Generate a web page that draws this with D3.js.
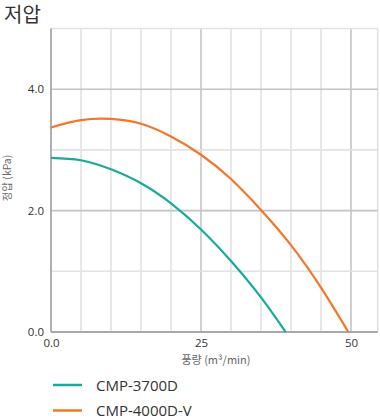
<!DOCTYPE html>
<html><head><meta charset="utf-8">
<script src="https://cdn.jsdelivr.net/npm/d3@7"></script>
<style>
html,body{margin:0;padding:0;background:#fff;}
svg{display:block;font-family:"Noto Sans","Noto Sans CJK KR",sans-serif;}
</style></head>
<body>
<svg id="c" width="380" height="419"></svg>
<script>
const title = "저압";
const xTitle = "풍량 (m³/min)";
const yTitle = "정압 (kPa)";
const xTicks = [0, 25, 50];
const xTickLabels = ["0.0", "25", "50"];
const yTicks = [0, 2, 4];
const yTickLabels = ["0.0", "2.0", "4.0"];
const seriesNames = ["CMP-3700D", "CMP-4000D-V"];
const seriesColors = ["#19aa9b", "#f47628"];
const flow3700 = [0, 5, 10, 15, 20, 25, 30, 35, 39.1];
const press3700 = [2.87, 2.83, 2.68, 2.45, 2.12, 1.69, 1.17, 0.57, 0];
const flow4000 = [0, 5, 10, 15, 20, 25, 30, 35, 40, 45, 49.55];
const press4000 = [3.37, 3.49, 3.51, 3.43, 3.22, 2.92, 2.52, 2.01, 1.43, 0.73, 0];

const svg = d3.select("#c");
const x = d3.scaleLinear().domain([0, 54.45]).range([51, 377.7]);
const y = d3.scaleLinear().domain([0, 5]).range([332, 28.5]);

const g = svg.append("g");
d3.range(5, 55, 5).forEach(v => {
  const major = v % 25 === 0;
  g.append("line").attr("x1", x(v)).attr("x2", x(v)).attr("y1", y(5)).attr("y2", y(0))
    .attr("stroke", major ? "#c4c4c8" : "#e2e2e4").attr("stroke-width", 1.6);
});
g.append("line").attr("x1", x(54.45)).attr("x2", x(54.45)).attr("y1", y(5)).attr("y2", y(0))
  .attr("stroke", "#e2e2e4").attr("stroke-width", 1.6);
d3.range(1, 6, 1).forEach(v => {
  const major = v % 2 === 0;
  g.append("line").attr("x1", x(0)).attr("x2", x(54.45)).attr("y1", y(v)).attr("y2", y(v))
    .attr("stroke", major ? "#c4c4c8" : "#e2e2e4").attr("stroke-width", 1.6);
});
g.append("line").attr("x1", x(0)).attr("x2", x(0)).attr("y1", y(5)).attr("y2", y(0))
  .attr("stroke", "#a8a8ac").attr("stroke-width", 1.8);
g.append("line").attr("x1", x(0)).attr("x2", x(54.45)).attr("y1", y(0)).attr("y2", y(0))
  .attr("stroke", "#a8a8ac").attr("stroke-width", 1.8);

const xa = d3.axisBottom(x).tickValues(xTicks).tickFormat((d, i) => xTickLabels[i]).tickSize(0).tickPadding(7);
svg.append("g").attr("transform", `translate(0,${y(0)})`).call(xa)
  .call(s => s.select(".domain").remove())
  .selectAll("text").attr("font-size", 11.5).attr("fill", "#333").attr("font-family", "Open Sans, sans-serif");
const ya = d3.axisLeft(y).tickValues(yTicks).tickFormat((d, i) => yTickLabels[i]).tickSize(0).tickPadding(7);
svg.append("g").attr("transform", `translate(${x(0)},0)`).call(ya)
  .call(s => s.select(".domain").remove())
  .selectAll("text").attr("font-size", 11.5).attr("fill", "#333").attr("font-family", "Open Sans, sans-serif");

svg.append("text").attr("x", 4).attr("y", 22).attr("font-size", 20).attr("fill", "#333")
  .attr("font-family", "Noto Sans CJK KR, sans-serif").text(title);
svg.append("text").attr("x", 216).attr("y", 364).attr("text-anchor", "middle")
  .attr("font-size", 11).attr("fill", "#666").attr("font-family", "Noto Sans CJK KR, sans-serif").text(xTitle);
svg.append("text").attr("transform", "translate(11,178) rotate(-90)").attr("text-anchor", "middle")
  .attr("font-size", 10.5).attr("fill", "#666").attr("font-family", "Noto Sans CJK KR, sans-serif").text(yTitle);

const line = d3.line().x(d => x(d[0])).y(d => y(d[1])).curve(d3.curveNatural);
const series = [
  d3.zip(flow3700, press3700),
  d3.zip(flow4000, press4000)
];
series.forEach((s, i) => {
  svg.append("path").datum(s).attr("d", line).attr("fill", "none")
    .attr("stroke", seriesColors[i]).attr("stroke-width", 2.2);
});

seriesNames.forEach((n, i) => {
  const ly = 385 + i * 25.5;
  svg.append("line").attr("x1", 53).attr("x2", 82).attr("y1", ly).attr("y2", ly)
    .attr("stroke", seriesColors[i]).attr("stroke-width", 2.5);
  svg.append("text").attr("x", 96).attr("y", ly + 5.5).attr("font-size", 15).attr("fill", "#333")
    .attr("font-family", "Open Sans, sans-serif").text(n);
});
</script>
</body></html>
